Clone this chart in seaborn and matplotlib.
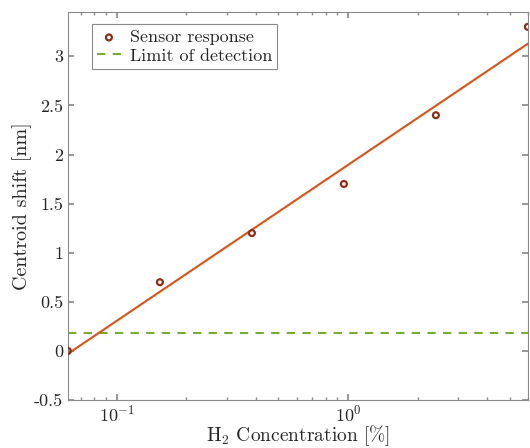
import numpy as np
import pandas as pd
import matplotlib
matplotlib.use("Agg")
import matplotlib.pyplot as plt
import seaborn as sns
from matplotlib.ticker import FixedLocator, FuncFormatter

# Measured sensor response
concentration = [0.0614, 0.1536, 0.384, 0.96, 2.4, 6.0]   # H2 concentration [%]
centroid_shift = [0.0, 0.7, 1.2, 1.7, 2.4, 3.3]           # [nm]
limit_of_detection = 0.18                                  # [nm]
y_ticks = [-0.5, 0, 0.5, 1, 1.5, 2, 2.5, 3]

sns.set_theme(style="ticks")
plt.rcParams.update({
    "font.family": ["cmr10", "DejaVu Serif"],
    "mathtext.fontset": "cm",
    "axes.formatter.use_mathtext": True,
    "font.size": 13,
})

df = pd.DataFrame({"conc": concentration, "shift": centroid_shift})

# linear fit of shift against log10(concentration)
slope, intercept = np.polyfit(np.log10(df["conc"]), df["shift"], 1)
x_fit = np.logspace(np.log10(min(concentration)), np.log10(max(concentration)), 50)
fit = pd.DataFrame({"conc": x_fit, "shift": slope * np.log10(x_fit) + intercept})

fig = plt.figure(figsize=(5.3, 4.48), dpi=100)
ax = fig.add_axes([0.128, 0.107, 0.868, 0.866])
ax.set_xscale("log")

sns.lineplot(data=fit, x="conc", y="shift", ax=ax, color="#D95319", lw=1.5,
             legend=False, zorder=2)
ax.axhline(limit_of_detection, color="#77AC30", ls=(0, (4, 3.5)), lw=1.5,
           label="Limit of detection", zorder=1)
sns.scatterplot(data=df, x="conc", y="shift", ax=ax, marker="o", s=18,
                facecolor="none", edgecolor="#8B2E16", linewidth=1.6,
                label="Sensor response", zorder=3)

ax.set_xlim(min(concentration), max(concentration))
ax.set_ylim(-0.5, 3.45)
ax.yaxis.set_major_locator(FixedLocator(y_ticks))
ax.yaxis.set_major_formatter(FuncFormatter(lambda v, p: f"{v:g}"))

ax.set_xlabel(r"H$_2$ Concentration [%]", fontsize=14, labelpad=-1.5)
ax.set_ylabel("Centroid shift [nm]", fontsize=14.5, labelpad=1)

for s in ax.spines.values():
    s.set_color("#8a8a8a")
    s.set_linewidth(0.8)
ax.tick_params(which="both", direction="in", top=True, right=True,
               color="#8a8a8a", labelsize=13)
ax.tick_params(axis="x", which="major", pad=3)
ax.tick_params(which="major", length=4)
ax.tick_params(which="minor", length=2.5)

handles, labels = ax.get_legend_handles_labels()
order = [labels.index("Sensor response"), labels.index("Limit of detection")]
leg = ax.legend([handles[i] for i in order], [labels[i] for i in order],
                loc="upper left", bbox_to_anchor=(0.052, 0.969), borderaxespad=0,
                fancybox=False, framealpha=1, edgecolor="#8a8a8a", fontsize=13,
                handlelength=1.3, handletextpad=0.5, borderpad=0.3,
                labelspacing=0.15)
leg.get_frame().set_linewidth(0.8)

fig.savefig("out.png", dpi=100)
